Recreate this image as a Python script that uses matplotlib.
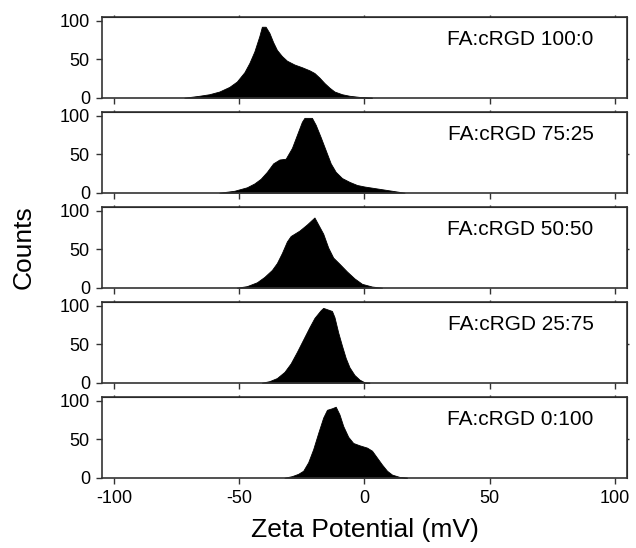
import matplotlib
matplotlib.use("Agg")
import matplotlib.pyplot as plt

# zeta potential distributions (mV, counts)
labels = ["FA:cRGD 100:0", "FA:cRGD 75:25", "FA:cRGD 50:50", "FA:cRGD 25:75", "FA:cRGD 0:100"]

zeta_100_0 = [-72, -66, -62, -58, -54, -51, -48, -46, -44, -42, -41, -39.5, -38, -36.5, -35,
              -33, -31, -28, -25, -22, -20, -18, -16, -14, -12, -9, -6, -2, 3]
counts_100_0 = [0, 2.5, 4.5, 8, 14, 21, 33, 45, 60, 80, 92, 92, 84, 72, 62,
                54, 48, 43, 39.5, 35.5, 32, 26, 19, 13, 8, 4.5, 2.5, 1, 0]

zeta_75_25 = [-58, -52, -47, -44, -41.5, -39, -36.5, -34, -31.5, -29, -27, -25, -24, -21,
              -19.5, -17.5, -15.5, -13.5, -11.5, -9, -6, -3, 0, 4, 8, 12, 16]
counts_75_25 = [0, 2.5, 7, 12, 18, 27, 38, 43, 44, 58, 75, 92, 97, 97,
                88, 72, 55, 38, 27, 19, 14, 10, 8, 6, 4, 2, 0]

zeta_50_50 = [-51, -47, -43, -40, -37, -35, -33, -31, -29.5, -26, -23, -20, -18.5, -16.5,
              -14.5, -12.5, -10, -7, -4, -1, 3, 7]
counts_50_50 = [0, 2, 7, 14, 23, 32, 45, 60, 67, 74, 82, 91, 82, 70,
                52, 39, 31, 21, 12, 5, 1.5, 0]

zeta_25_75 = [-41, -38, -35, -32, -29.5, -27, -24.5, -22, -20, -17.5, -16.5, -13, -12,
              -10.5, -9, -7.5, -6, -4, -2, 0, 2]
counts_25_75 = [0, 2, 6, 14, 25, 40, 56, 72, 84, 94, 97, 93, 85,
                65, 48, 32, 20, 10, 4, 0.5, 0]

zeta_0_100 = [-32, -29, -26.5, -24.5, -22.5, -20.5, -18.5, -16.5, -15, -13, -11.5, -10,
              -8.5, -6.5, -4.5, -2, 1, 3, 5, 7, 9, 11, 14, 17]
counts_0_100 = [0, 2, 5, 9, 20, 37, 58, 78, 88, 90, 92, 82,
                67, 53, 45, 42, 39, 35, 26, 17, 9, 4, 1, 0]

zetas = [zeta_100_0, zeta_75_25, zeta_50_50, zeta_25_75, zeta_0_100]
counts = [counts_100_0, counts_75_25, counts_50_50, counts_25_75, counts_0_100]

xticks = [-100, -50, 0, 50, 100]
yticks = [0, 50, 100]

plt.rcParams['font.family'] = ['Liberation Sans', 'DejaVu Sans']

W, H = 636, 548
fig = plt.figure(figsize=(W / 100, H / 100), dpi=100)

left = 101.7 / W
width = (627.3 - 101.7) / W
frame_col = '#333333'

for i in range(5):
    top_px = 16.7 + 95 * i
    bot_px = top_px + 81
    ax = fig.add_axes([left, 1 - bot_px / H, width, 81 / H])
    ax.fill_between(zetas[i], counts[i], 0, color='black', linewidth=0.6, edgecolor='black')
    ax.set_xlim(-105, 105)
    ax.set_ylim(0, 105)
    ax.set_xticks(xticks)
    ax.set_yticks(yticks)
    ax.tick_params(direction='out', length=4.5, width=1, color=frame_col,
                   labelsize=13, pad=4)
    if i < 4:
        ax.set_xticklabels([])
    else:
        ax.set_xticklabels([str(t) for t in xticks])
        ax.set_xlabel("Zeta Potential (mV)", fontsize=19, labelpad=8)
    for s in ax.spines.values():
        s.set_linewidth(1.2)
        s.set_color(frame_col)
    # short outer ticks on top / right edges
    tx = ax.secondary_xaxis('top')
    tx.set_xticks(xticks)
    tx.set_xticklabels([])
    tx.tick_params(direction='out', length=1.5, width=1, color=frame_col)
    ty = ax.secondary_yaxis('right')
    ty.set_yticks([50])
    ty.set_yticklabels([])
    ty.tick_params(direction='out', length=1.5, width=1, color=frame_col)
    ax.text(91.5, 75, labels[i], ha='right', va='center', fontsize=15)

fig.text(24 / W, 1 - 247 / H, "Counts", rotation=90, ha='center', va='center', fontsize=19)

fig.savefig("out.png", dpi=100)
